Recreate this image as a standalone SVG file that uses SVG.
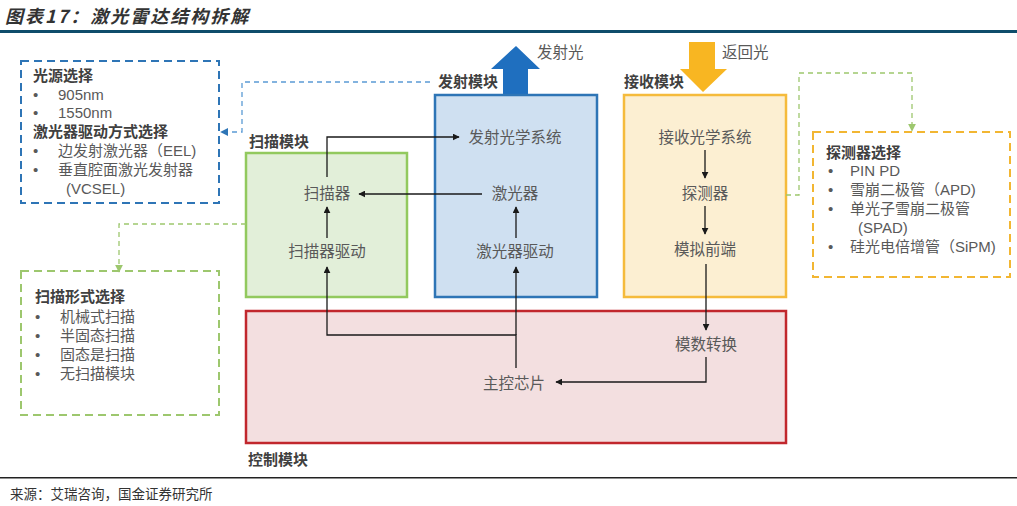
<svg xmlns="http://www.w3.org/2000/svg" width="1017" height="506" viewBox="0 0 1017 506">
<defs>
<style>
text{font-family:"Liberation Sans","Noto Sans CJK SC",sans-serif;}
.t{font-size:15.5px;fill:#595959;}
.s{font-size:15px;fill:#595959;}
.b{font-size:15px;font-weight:bold;fill:#404040;}
.c{fill:none;stroke:#1a1a1a;stroke-width:1.3;}
.m{text-anchor:middle;}
</style>
<marker id="ah" viewBox="0 0 10 10" refX="9" refY="5" markerWidth="7" markerHeight="7" orient="auto" markerUnits="userSpaceOnUse"><path d="M0,0 L10,5 L0,10 z" fill="#1a1a1a"/></marker>
<marker id="ahb" viewBox="0 0 10 10" refX="9" refY="5" markerWidth="8" markerHeight="8" orient="auto" markerUnits="userSpaceOnUse"><path d="M0,0 L10,5 L0,10 z" fill="#2e75b6"/></marker>
<marker id="ahg" viewBox="0 0 10 10" refX="9" refY="5" markerWidth="8" markerHeight="8" orient="auto" markerUnits="userSpaceOnUse"><path d="M0,0 L10,5 L0,10 z" fill="#9dc76e"/></marker>
</defs>
<rect width="1017" height="506" fill="#ffffff"/>
<g id="header">
<text x="5" y="23" style="font-size:18px;font-weight:bold;font-style:italic;fill:#333;letter-spacing:2px;font-family:'Noto Sans CJK SC',sans-serif">图表17：激光雷达结构拆解</text>
<rect x="0" y="30" width="1017" height="3" fill="#0e4d6b"/>
</g>
<g id="emit-arrow">
<polygon points="503,95 503,69 491,69 516,46 540,69 528,69 528,95" fill="#1f6fbf"/>
<text class="t" x="537" y="58">发射光</text>
</g>
<g id="return-arrow">
<polygon points="689,42 715,42 715,69 727,69 703,92 680,69 689,69" fill="#f8b622"/>
<text class="t" x="722" y="58">返回光</text>
</g>
<g id="control">
<rect x="246" y="311" width="540" height="132" fill="#f3dfe0" stroke="#c1272d" stroke-width="2.5"/>
<text class="b" x="248" y="465">控制模块</text>
<text class="t m" x="706" y="350">模数转换</text>
<text class="t m" x="514" y="389">主控芯片</text>
</g>
<g id="scan">
<rect x="246" y="153" width="161" height="144" fill="#e2efd9" stroke="#92c95e" stroke-width="2.5"/>
<text class="b" x="249" y="147">扫描模块</text>
<text class="t m" x="327" y="199">扫描器</text>
<text class="t m" x="327" y="257">扫描器驱动</text>
</g>
<g id="emit">
<rect x="435" y="95" width="162" height="202" fill="#cfe0f1" stroke="#2e75b6" stroke-width="2.5"/>
<text class="b" x="438" y="87">发射模块</text>
<text class="t m" x="515" y="143">发射光学系统</text>
<text class="t m" x="515" y="199">激光器</text>
<text class="t m" x="515" y="257">激光器驱动</text>
</g>
<g id="receive">
<rect x="624" y="95" width="162" height="202" fill="#fcefd2" stroke="#f5bb3c" stroke-width="2.5"/>
<text class="b" x="624" y="87">接收模块</text>
<text class="t m" x="705" y="143">接收光学系统</text>
<text class="t m" x="705" y="199">探测器</text>
<text class="t m" x="705" y="255">模拟前端</text>
</g>
<g id="light-source-options">
<rect x="21" y="61" width="198" height="142" fill="#ffffff" stroke="#2e75b6" stroke-width="2" stroke-dasharray="8 5"/>
<text class="b" x="33" y="81">光源选择</text>
<text class="s" x="33" y="100">•</text><text class="s" x="58" y="100">905nm</text>
<text class="s" x="33" y="118">•</text><text class="s" x="58" y="118">1550nm</text>
<text class="b" x="33" y="137">激光器驱动方式选择</text>
<text class="s" x="33" y="156">•</text><text class="s" x="58" y="156">边发射激光器（EEL)</text>
<text class="s" x="33" y="175">•</text><text class="s" x="58" y="175">垂直腔面激光发射器</text>
<text class="s" x="66" y="194">(VCSEL)</text>
</g>
<g id="scan-options">
<rect x="21" y="271" width="198" height="144" fill="#ffffff" stroke="#9dc76e" stroke-width="2" stroke-dasharray="8 5"/>
<text class="b" x="35" y="302">扫描形式选择</text>
<text class="s" x="35" y="322">•</text><text class="s" x="60" y="322">机械式扫描</text>
<text class="s" x="35" y="341">•</text><text class="s" x="60" y="341">半固态扫描</text>
<text class="s" x="35" y="360">•</text><text class="s" x="60" y="360">固态是扫描</text>
<text class="s" x="35" y="379">•</text><text class="s" x="60" y="379">无扫描模块</text>
</g>
<g id="detector-options">
<rect x="813" y="132" width="197" height="145" fill="#ffffff" stroke="#f2b632" stroke-width="2" stroke-dasharray="8 5"/>
<text class="b" x="826" y="158">探测器选择</text>
<text class="s" x="828" y="176">•</text><text class="s" x="850" y="176">PIN PD</text>
<text class="s" x="828" y="195">•</text><text class="s" x="850" y="195">雪崩二极管（APD)</text>
<text class="s" x="828" y="214">•</text><text class="s" x="850" y="214">单光子雪崩二极管</text>
<text class="s" x="858" y="233">(SPAD)</text>
<text class="s" x="828" y="252">•</text><text class="s" x="850" y="252">硅光电倍增管（SiPM)</text>
</g>
<g id="connectors">
<polyline class="c" points="327,177 327,137 459,137" marker-end="url(#ah)"/>
<line class="c" x1="482" y1="194" x2="359" y2="194" marker-end="url(#ah)"/>
<line class="c" x1="327" y1="238" x2="327" y2="207" marker-end="url(#ah)"/>
<line class="c" x1="516" y1="238" x2="516" y2="207" marker-end="url(#ah)"/>
<polyline class="c" points="516,368 516,335 327,335 327,267" marker-end="url(#ah)"/>
<line class="c" x1="516" y1="335" x2="516" y2="267" marker-end="url(#ah)"/>
<line class="c" x1="705" y1="150" x2="705" y2="178" marker-end="url(#ah)"/>
<line class="c" x1="705" y1="206" x2="705" y2="234" marker-end="url(#ah)"/>
<line class="c" x1="706" y1="264" x2="706" y2="330" marker-end="url(#ah)"/>
<polyline class="c" points="706,357 706,382 556,382" marker-end="url(#ah)"/>
<polyline points="430,82 242,82 242,132 221,132" fill="none" stroke="#5b9bd5" stroke-width="1.3" stroke-dasharray="5 4" marker-end="url(#ahb)"/>
<polyline points="246,224 119,224 119,272" fill="none" stroke="#9dc76e" stroke-width="1.3" stroke-dasharray="5 4" marker-end="url(#ahg)"/>
<polyline points="786,195 799,195 799,73 912,73 912,131" fill="none" stroke="#9dc76e" stroke-width="1.3" stroke-dasharray="5 4" marker-end="url(#ahg)"/>
</g>
<g id="footer">
<rect x="0" y="477" width="1017" height="1.5" fill="#222"/>
<text x="10" y="499" style="font-size:13.5px;fill:#333;font-family:'Noto Sans CJK SC',serif">来源：艾瑞咨询，国金证券研究所</text>
</g>
</svg>
